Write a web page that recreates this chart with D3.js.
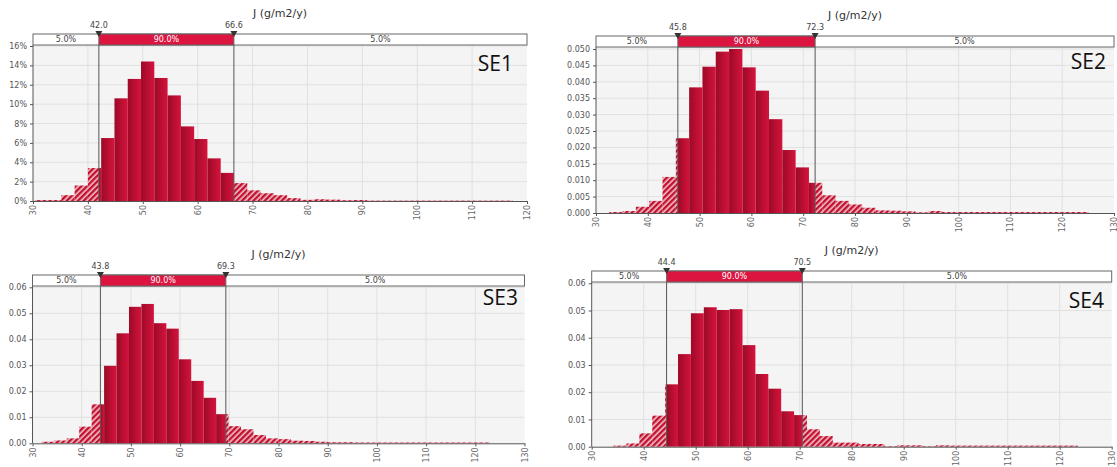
<!DOCTYPE html>
<html>
<head>
<meta charset="utf-8">
<script src="https://cdn.jsdelivr.net/npm/d3@7"></script>
<style>
  body { margin: 0; background: #fff; }
  svg { display: block; }
</style>
</head>
<body>
<script>
const xTitle = 'J (g/m2/y)'
const bandLabels = ['5.0%', '90.0%', '5.0%']

const se1Start = 30.32, se1Width = 2.42
const se1Cuts = [42.0, 66.6]
const se1Heights = [0.001, 0.001, 0.006, 0.016, 0.034, 0.065, 0.106, 0.126, 0.144, 0.127,
  0.109, 0.077, 0.064, 0.044, 0.029, 0.0185, 0.011, 0.008, 0.006, 0.003,
  0.0012, 0.0018, 0.0014, 0.0008, 0.001, 0.0004, 0.0004, 0.0004, 0.0004, 0.0004,
  0.0004, 0.0004, 0.0004, 0.0004, 0.0004, 0.0004]
const se1XTicks = [30, 40, 50, 60, 70, 80, 90, 100, 110, 120]
const se1YTicks = [0, 0.02, 0.04, 0.06, 0.08, 0.10, 0.12, 0.14, 0.16]

const se2Start = 32.56, se2Width = 2.57
const se2Cuts = [45.8, 72.3]
const se2Heights = [0.0003, 0.0006, 0.0019, 0.0037, 0.011, 0.0228, 0.0383, 0.0446, 0.0492, 0.050,
  0.0444, 0.0373, 0.0286, 0.0192, 0.0139, 0.0092, 0.0054, 0.0037, 0.0026, 0.0016,
  0.0008, 0.0007, 0.0005, 0.0002, 0.0006, 0.0003, 0.0003, 0.0003, 0.0003, 0.0003,
  0.0003, 0.0003, 0.0003, 0.0003, 0.0003, 0.0003]
const se2XTicks = [30, 40, 50, 60, 70, 80, 90, 100, 110, 120, 130]
const se2YTicks = [0, 0.005, 0.010, 0.015, 0.020, 0.025, 0.030, 0.035, 0.040, 0.045, 0.050]

const se3Start = 31.9, se3Width = 2.53
const se3Cuts = [43.8, 69.3]
const se3Heights = [0.0006, 0.0011, 0.0019, 0.0064, 0.015, 0.0298, 0.0423, 0.0525, 0.0536, 0.0462,
  0.0441, 0.0323, 0.024, 0.0175, 0.0112, 0.0066, 0.0054, 0.0032, 0.0019, 0.0016,
  0.001, 0.0009, 0.0006, 0.0004, 0.0004, 0.0003, 0.0003, 0.0003, 0.0003, 0.0003,
  0.0003, 0.0003, 0.0003, 0.0003, 0.0003, 0.0003]
const se3XTicks = [30, 40, 50, 60, 70, 80, 90, 100, 110, 120, 130]
const se3YTicks = [0, 0.01, 0.02, 0.03, 0.04, 0.05, 0.06]

const se4Start = 34.2, se4Width = 2.48
const se4Cuts = [44.4, 70.5]
const se4Heights = [0.0004, 0.0012, 0.0049, 0.0114, 0.0229, 0.034, 0.049, 0.0512, 0.0502, 0.0505,
  0.0373, 0.0267, 0.0213, 0.013, 0.0116, 0.0064, 0.0039, 0.0015, 0.0015, 0.001,
  0.001, 0.0002, 0.0005, 0.0005, 0.0002, 0.0005, 0.0004, 0.0004, 0.0004, 0.0004,
  0.0004, 0.0004, 0.0004, 0.0004, 0.0004, 0.0004]
const se4XTicks = [30, 40, 50, 60, 70, 80, 90, 100, 110, 120, 130]
const se4YTicks = [0, 0.01, 0.02, 0.03, 0.04, 0.05, 0.06]

const W = 1117, H = 467

const svg = d3.select('body').append('svg')
  .attr('width', W)
  .attr('height', H)
  .style('font-family', 'Tahoma, "DejaVu Sans", sans-serif')

const defs = svg.append('defs')

// hatch used for the two 5% tails
const hatch = defs.append('pattern')
  .attr('id', 'hatch')
  .attr('patternUnits', 'userSpaceOnUse')
  .attr('width', 4)
  .attr('height', 4)
  .attr('patternTransform', 'rotate(45)')
hatch.append('rect').attr('width', 4).attr('height', 4).attr('fill', '#f0c4cc')
hatch.append('rect').attr('width', 2.4).attr('height', 4).attr('fill', '#c3102f')

// solid bars are shaded left to right
const grad = defs.append('linearGradient')
  .attr('id', 'barGrad')
  .attr('x1', 0).attr('x2', 1).attr('y1', 0).attr('y2', 0)
grad.append('stop').attr('offset', '0%').attr('stop-color', '#9c0a26')
grad.append('stop').attr('offset', '100%').attr('stop-color', '#d5133d')

const panels = [
  { name: 'SE1', start: se1Start, width: se1Width, heights: se1Heights, cuts: se1Cuts,
    xTicks: se1XTicks, yTicks: se1YTicks, yFmt: d3.format('.0%'),
    left: 33, right: 527, bandTop: 34, plotTop: 45, yTop: 46, bottom: 201, nameX: 513, nameY: 71 },
  { name: 'SE2', start: se2Start, width: se2Width, heights: se2Heights, cuts: se2Cuts,
    xTicks: se2XTicks, yTicks: se2YTicks, yFmt: d3.format('.3f'),
    left: 596, right: 1114, bandTop: 36, plotTop: 47, yTop: 49, bottom: 213, nameX: 1106, nameY: 69 },
  { name: 'SE3', start: se3Start, width: se3Width, heights: se3Heights, cuts: se3Cuts,
    xTicks: se3XTicks, yTicks: se3YTicks, yFmt: d3.format('.2f'),
    left: 32.5, right: 524.5, bandTop: 275, plotTop: 286, yTop: 287.3, bottom: 443.3, nameX: 518, nameY: 305 },
  { name: 'SE4', start: se4Start, width: se4Width, heights: se4Heights, cuts: se4Cuts,
    xTicks: se4XTicks, yTicks: se4YTicks, yFmt: d3.format('.2f'),
    left: 591.7, right: 1111.7, bandTop: 271, plotTop: 282, yTop: 283.3, bottom: 446.7, nameX: 1104, nameY: 308 }
]

const drawPanel = p => {
  const xMax = p.xTicks[p.xTicks.length - 1]
  const x = d3.scaleLinear([30, xMax], [p.left, p.right])
  const y = d3.scaleLinear([0, p.yTicks[p.yTicks.length - 1]], [p.bottom, p.yTop])
  const g = svg.append('g')
  const [lo, hi] = p.cuts

  // plot background + grid
  g.append('rect')
    .attr('x', p.left).attr('y', p.plotTop)
    .attr('width', p.right - p.left).attr('height', p.bottom - p.plotTop)
    .attr('fill', '#f4f4f4')

  g.append('g').selectAll('line').data(p.xTicks.slice(1, -1)).join('line')
    .attr('x1', d => x(d)).attr('x2', d => x(d))
    .attr('y1', p.plotTop).attr('y2', p.bottom)
    .attr('stroke', '#e0e0e0')
  g.append('g').selectAll('line').data(p.yTicks.slice(1)).join('line')
    .attr('x1', p.left).attr('x2', p.right)
    .attr('y1', d => y(d)).attr('y2', d => y(d))
    .attr('stroke', '#e0e0e0')

  // split each bin at the cut points, tails hatched
  const segs = []
  p.heights.forEach((h, i) => {
    const x0 = p.start + i * p.width
    const x1 = x0 + p.width
    const parts = [[x0, Math.min(x1, lo), true], [Math.max(x0, lo), Math.min(x1, hi), false], [Math.max(x0, hi), x1, true]]
    parts.forEach(([a, b, tail]) => {
      if (b - a > 1e-6) segs.push({ a, b, h, tail })
    })
  })

  g.append('g').selectAll('rect').data(segs).join('rect')
    .attr('x', d => x(d.a))
    .attr('width', d => x(d.b) - x(d.a))
    .attr('y', d => y(d.h))
    .attr('height', d => p.bottom - y(d.h))
    .attr('fill', d => d.tail ? 'url(#hatch)' : 'url(#barGrad)')

  // axes
  const xAxis = g.append('g')
    .attr('transform', `translate(0,${p.bottom})`)
    .call(d3.axisBottom(x).tickValues(p.xTicks).tickSize(3).tickSizeOuter(0))
  xAxis.select('.domain').attr('stroke', '#555')
  xAxis.selectAll('.tick line').attr('stroke', '#555')
  xAxis.selectAll('text')
    .attr('transform', 'rotate(-90)')
    .attr('text-anchor', 'end')
    .attr('x', -4).attr('y', 0).attr('dy', '0.32em')
    .attr('font-size', 8).attr('fill', '#666')
    .attr('font-family', 'Tahoma, "DejaVu Sans", sans-serif')

  const yAxis = g.append('g')
    .attr('transform', `translate(${p.left},0)`)
    .call(d3.axisLeft(y).tickValues(p.yTicks).tickFormat(p.yFmt).tickSize(3).tickSizeOuter(0))
  yAxis.select('.domain').attr('d', `M0,${p.plotTop}V${p.bottom}`).attr('stroke', '#555')
  yAxis.selectAll('.tick line').attr('stroke', '#555')
  yAxis.selectAll('text')
    .attr('font-size', 8).attr('fill', '#555')
    .attr('font-family', 'Tahoma, "DejaVu Sans", sans-serif')

  // cut lines
  g.append('g').selectAll('line').data(p.cuts).join('line')
    .attr('x1', d => x(d)).attr('x2', d => x(d))
    .attr('y1', p.bandTop).attr('y2', p.bottom)
    .attr('stroke', '#555').attr('stroke-width', 1)

  // 5% / 90% / 5% band
  const bandH = p.plotTop - p.bandTop
  const bandSegs = [[30, lo], [lo, hi], [hi, xMax]]
  g.append('rect')
    .attr('x', p.left).attr('y', p.bandTop)
    .attr('width', p.right - p.left).attr('height', bandH)
    .attr('fill', '#fff').attr('stroke', '#666')
  g.append('rect')
    .attr('x', x(lo)).attr('y', p.bandTop)
    .attr('width', x(hi) - x(lo)).attr('height', bandH)
    .attr('fill', '#dc1440').attr('stroke', '#666')
  g.append('g').selectAll('text').data(bandSegs).join('text')
    .attr('x', d => (x(d[0]) + x(d[1])) / 2)
    .attr('y', p.bandTop + bandH / 2)
    .attr('dy', '0.35em')
    .attr('text-anchor', 'middle')
    .attr('font-size', 8)
    .attr('fill', (d, i) => i === 1 ? '#fff' : '#444')
    .text((d, i) => bandLabels[i])

  // cut markers and their values
  g.append('g').selectAll('path').data(p.cuts).join('path')
    .attr('d', d => `M${x(d) - 3.5},${p.bandTop - 3}L${x(d) + 3.5},${p.bandTop - 3}L${x(d)},${p.bandTop + 3}Z`)
    .attr('fill', '#333')
  g.append('g').selectAll('text').data(p.cuts).join('text')
    .attr('x', d => x(d))
    .attr('y', p.bandTop - 6)
    .attr('text-anchor', 'middle')
    .attr('font-size', 8)
    .attr('fill', '#444')
    .text(d => d.toFixed(1))

  // titles
  g.append('text')
    .attr('x', (p.left + p.right) / 2)
    .attr('y', p.bandTop - 17)
    .attr('text-anchor', 'middle')
    .attr('font-size', 11)
    .attr('fill', '#333')
    .text(xTitle)
  g.append('text')
    .attr('x', p.nameX)
    .attr('y', p.nameY)
    .attr('text-anchor', 'end')
    .attr('font-size', 21)
    .attr('font-family', '"Open Sans", "Noto Sans", sans-serif')
    .attr('fill', '#111')
    .text(p.name)
}

panels.forEach(drawPanel)
</script>
</body>
</html>
